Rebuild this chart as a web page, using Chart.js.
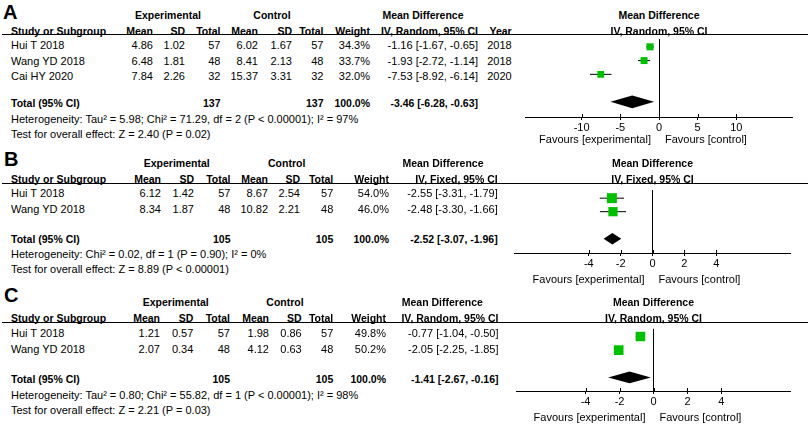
<!DOCTYPE html>
<html><head><meta charset="utf-8">
<script src="https://cdn.jsdelivr.net/npm/chart.js@4.4.0/dist/chart.umd.min.js"></script>
<style>
html,body{margin:0;padding:0;background:#fff;}
#root{position:relative;width:809px;height:425px;overflow:hidden;background:#fff;font-family:"Liberation Sans",Arial,sans-serif;font-size:11px;color:#000;}
.t{position:absolute;white-space:nowrap;line-height:1;}
.b{font-weight:bold;font-size:10.5px;}
.hl{position:absolute;height:1px;background:#000;}
.cv{position:absolute;}
</style></head><body><div id="root"></div>
<script>
// ---------- DATA ----------
// Panel A
const studiesA = ['Hui T 2018', 'Wang YD 2018', 'Cai HY 2020'];
const expMeanA = [4.86, 6.48, 7.84];
const expSDA = [1.02, 1.81, 2.26];
const expNA = [57, 48, 32];
const ctlMeanA = [6.02, 8.41, 15.37];
const ctlSDA = [1.67, 2.13, 3.31];
const ctlNA = [57, 48, 32];
const weightA = [34.3, 33.7, 32.0];
const mdA = [-1.16, -1.93, -7.53];
const loA = [-1.67, -2.72, -8.92];
const hiA = [-0.65, -1.14, -6.14];
const yearA = ['2018', '2018', '2020'];
const totalA = [137, 137, 100.0, -3.46, -6.28, -0.63];
const hetA = 'Heterogeneity: Tau² = 5.98; Chi² = 71.29, df = 2 (P < 0.00001); I² = 97%';
const testA = 'Test for overall effect: Z = 2.40 (P = 0.02)';
const ticksA = [-10, -5, 0, 5, 10];

// Panel B
const studiesB = ['Hui T 2018', 'Wang YD 2018'];
const expMeanB = [6.12, 8.34];
const expSDB = [1.42, 1.87];
const expNB = [57, 48];
const ctlMeanB = [8.67, 10.82];
const ctlSDB = [2.54, 2.21];
const ctlNB = [57, 48];
const weightB = [54.0, 46.0];
const mdB = [-2.55, -2.48];
const loB = [-3.31, -3.30];
const hiB = [-1.79, -1.66];
const totalB = [105, 105, 100.0, -2.52, -3.07, -1.96];
const hetB = 'Heterogeneity: Chi² = 0.02, df = 1 (P = 0.90); I² = 0%';
const testB = 'Test for overall effect: Z = 8.89 (P < 0.00001)';
const ticksB = [-4, -2, 0, 2, 4];

// Panel C
const studiesC = ['Hui T 2018', 'Wang YD 2018'];
const expMeanC = [1.21, 2.07];
const expSDC = [0.57, 0.34];
const expNC = [57, 48];
const ctlMeanC = [1.98, 4.12];
const ctlSDC = [0.86, 0.63];
const ctlNC = [57, 48];
const weightC = [49.8, 50.2];
const mdC = [-0.77, -2.05];
const loC = [-1.04, -2.25];
const hiC = [-0.50, -1.85];
const totalC = [105, 105, 100.0, -1.41, -2.67, -0.16];
const hetC = 'Heterogeneity: Tau² = 0.80; Chi² = 55.82, df = 1 (P < 0.00001); I² = 98%';
const testC = 'Test for overall effect: Z = 2.21 (P = 0.03)';
const ticksC = [-4, -2, 0, 2, 4];

// ---------- LAYOUT ----------
const root = document.getElementById('root');
const FONT = '"Liberation Sans", Arial, sans-serif';

function txt(s, x, y, align, bold, size) {
  const d = document.createElement('div');
  d.className = 't' + (bold ? ' b' : '');
  d.textContent = s;
  d.style.left = x + 'px';
  d.style.top = y + 'px';
  const tx = align === 'r' ? '-100%' : (align === 'c' ? '-50%' : '0');
  d.style.transform = 'translate(' + tx + ',-50%)';
  if (size) d.style.fontSize = size + 'px';
  root.appendChild(d);
}
function hline(x1, x2, y) {
  const d = document.createElement('div');
  d.className = 'hl';
  d.style.left = x1 + 'px'; d.style.width = (x2 - x1) + 'px'; d.style.top = y + 'px';
  root.appendChild(d);
}
const f2 = v => v.toFixed(2);
const ci = (m, l, h) => f2(m) + ' [' + f2(l) + ', ' + f2(h) + ']';

function panel(P) {
  txt(P.letter, P.letterX, P.letterY, 'l', true, 20);
  txt('Experimental', P.cExp, P.h1Y, 'c', true);
  txt('Control', P.cCtl, P.h1Y, 'c', true);
  txt('Mean Difference', P.cMD, P.h1Y, 'c', true);
  const C = P.cols;
  txt('Study or Subgroup', 11, P.h2Y, 'l', true);
  const heads = ['Mean', 'SD', 'Total', 'Mean', 'SD', 'Total', 'Weight', P.method];
  heads.forEach((h, i) => txt(h, C[i], P.h2Y, 'r', true));
  if (P.year) txt('Year', C[8], P.h2Y, 'r', true);
  hline(2, 808, P.lineY);
  P.studies.forEach((s, i) => {
    const y = P.rowsY[i];
    txt(s, 11, y, 'l');
    const vals = [f2(P.eM[i]), f2(P.eS[i]), String(P.eN[i]), f2(P.cM[i]), f2(P.cS[i]), String(P.cN[i]),
      P.w[i].toFixed(1) + '%', ci(P.md[i], P.lo[i], P.hi[i])];
    vals.forEach((v, j) => txt(v, C[j], y, 'r'));
    if (P.year) txt(P.year[i], C[8], y, 'r');
  });
  const T = P.total;
  txt('Total (95% CI)', 11, P.totY, 'l', true);
  txt(String(T[0]), C[2], P.totY, 'r', true);
  txt(String(T[1]), C[5], P.totY, 'r', true);
  txt(T[2].toFixed(1) + '%', C[6], P.totY, 'r', true);
  txt(ci(T[3], T[4], T[5]), C[7], P.totY, 'r', true);
  txt(P.het, 11, P.hetY, 'l');
  txt(P.test, 11, P.testY, 'l');

  // forest plot
  const w = P.axisRight - P.axisLeft;
  const h = P.axisY - P.lineY + P.axisH;
  const wrap = document.createElement('div');
  wrap.className = 'cv';
  wrap.style.left = P.axisLeft + 'px'; wrap.style.top = P.lineY + 'px';
  wrap.style.width = w + 'px'; wrap.style.height = h + 'px';
  const cv = document.createElement('canvas');
  cv.width = w; cv.height = h; cv.style.width = w + 'px'; cv.style.height = h + 'px';
  wrap.appendChild(cv); root.appendChild(wrap);

  const datasets = [{
    data: P.md.map((m, i) => ({ x: m, y: i })),
    pointStyle: 'rect',
    pointRadius: P.w.map(wt => P.k * Math.sqrt(wt) / Math.SQRT2),
    backgroundColor: '#00c000', borderWidth: 0, showLine: false, order: 0
  }];
  P.md.forEach((m, i) => datasets.push({
    data: [{ x: P.lo[i], y: i }, { x: P.hi[i], y: i }],
    showLine: true, borderColor: '#000', borderWidth: 1, pointRadius: 0, order: 1
  }));
  const totalRow = P.md.length + 1;
  const diamond = {
    id: 'diamond' + P.letter,
    afterDatasetsDraw(chart) {
      const xs = chart.scales.x, ys = chart.scales.y, ctx = chart.ctx;
      const yc = ys.getPixelForValue(totalRow);
      ctx.save();
      ctx.fillStyle = '#000';
      ctx.beginPath();
      ctx.moveTo(xs.getPixelForValue(T[4]), yc);
      ctx.lineTo(xs.getPixelForValue(T[3]), yc - P.dh);
      ctx.lineTo(xs.getPixelForValue(T[5]), yc);
      ctx.lineTo(xs.getPixelForValue(T[3]), yc + P.dh);
      ctx.closePath(); ctx.fill();
      const ay = chart.chartArea.bottom;
      ctx.strokeStyle = '#000'; ctx.lineWidth = 1;
      xs.ticks.forEach(t => {
        const px = Math.round(xs.getPixelForValue(t.value)) + 0.5;
        ctx.beginPath(); ctx.moveTo(px, ay - 3); ctx.lineTo(px, ay); ctx.stroke();
      });
      ctx.restore();
    }
  };
  const chart = new Chart(cv, {
    type: 'scatter',
    data: { datasets },
    options: {
      responsive: false, animation: false, devicePixelRatio: 1,
      layout: { padding: 0 },
      plugins: { legend: { display: false }, tooltip: { enabled: false } },
      scales: {
        x: {
          type: 'linear', min: P.xMin, max: P.xMax,
          afterBuildTicks: s => { s.ticks = P.ticks.map(v => ({ value: v })); },
          afterFit: s => { s.height = P.axisH; },
          grid: {
            drawOnChartArea: true, drawTicks: true, tickLength: 3, tickColor: '#000', lineWidth: 1,
            color: c => (c.tick && c.tick.value === 0) ? '#000' : 'rgba(0,0,0,0)'
          },
          border: { display: true, color: '#000', width: 1 },
          ticks: { color: '#000', padding: 1, maxRotation: 0, autoSkip: false, font: { family: FONT, size: 11 } }
        },
        y: { type: 'linear', display: false, reverse: true, min: P.yMin, max: P.yMax }
      }
    },
    plugins: [diamond]
  });
  const z = P.axisLeft + chart.scales.x.getPixelForValue(0);
  txt('Mean Difference', z, P.h1Y, 'c', true);
  txt(P.method, z, P.h2Y, 'c', true);
  txt('Favours [experimental]', z - 8, P.favY, 'r');
  txt('Favours [control]', z + 6, P.favY, 'l');
}

panel({
  letter: 'A', letterX: 3, letterY: 12,
  h1Y: 15, h2Y: 30.5, lineY: 34, rowsY: [45, 60.5, 75.7], totY: 103.3, hetY: 119, testY: 134,
  cExp: 168, cCtl: 272, cMD: 423,
  cols: [153, 185, 220.5, 258, 292, 323.5, 370, 478, 511.7],
  method: 'IV, Random, 95% CI', year: yearA,
  studies: studiesA, eM: expMeanA, eS: expSDA, eN: expNA, cM: ctlMeanA, cS: ctlSDA, cN: ctlNA,
  w: weightA, md: mdA, lo: loA, hi: hiA, total: totalA, het: hetA, test: testA,
  ticks: ticksA, axisLeft: 521, axisRight: 797, xMin: -17.2, xMax: 17.2, axisY: 117, axisH: 22,
  yMin: -0.57, yMax: 5.1, k: 1.2, dh: 6.3, favY: 139.3
});
panel({
  letter: 'B', letterX: 4, letterY: 159,
  h1Y: 163.3, h2Y: 178.7, lineY: 183, rowsY: [193.3, 209], totY: 239, hetY: 254.3, testY: 269,
  cExp: 176.7, cCtl: 286.7, cMD: 443,
  cols: [161, 194, 230.5, 268, 300, 333.3, 389, 497.7],
  method: 'IV, Fixed, 95% CI', year: null,
  studies: studiesB, eM: expMeanB, eS: expSDB, eN: expNB, cM: ctlMeanB, cS: ctlSDB, cN: ctlNB,
  w: weightB, md: mdB, lo: loB, hi: hiB, total: totalB, het: hetB, test: testB,
  ticks: ticksB, axisLeft: 507, axisRight: 798, xMin: -8.69, xMax: 8.69, axisY: 253, axisH: 22,
  yMin: -0.6, yMax: 4.06, k: 1.36, dh: 5.8, favY: 279
});
panel({
  letter: 'C', letterX: 4, letterY: 294.5,
  h1Y: 302.3, h2Y: 317.7, lineY: 322, rowsY: [333.3, 349], totY: 379, hetY: 395, testY: 410,
  cExp: 175.7, cCtl: 285, cMD: 442.3,
  cols: [160, 193.3, 230, 269, 301.7, 333.3, 386, 498.5],
  method: 'IV, Random, 95% CI', year: null,
  studies: studiesC, eM: expMeanC, eS: expSDC, eN: expNC, cM: ctlMeanC, cS: ctlSDC, cN: ctlNC,
  w: weightC, md: mdC, lo: loC, hi: hiC, total: totalC, het: hetC, test: testC,
  ticks: ticksC, axisLeft: 510, axisRight: 797, xMin: -8.05, xMax: 8.05, axisY: 391, axisH: 22,
  yMin: -0.56, yMax: 3.99, k: 1.36, dh: 5.9, favY: 416.7
});
</script></body></html>
